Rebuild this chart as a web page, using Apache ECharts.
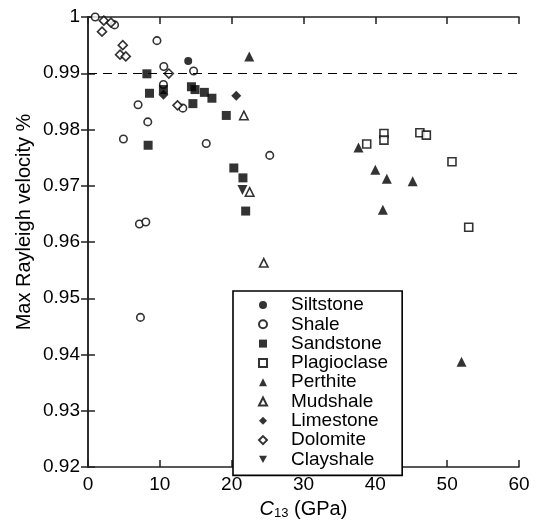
<!DOCTYPE html>
<html><head><meta charset="utf-8">
<script src="https://cdn.jsdelivr.net/npm/echarts@6/dist/echarts.min.js"></script>
<style>html,body{margin:0;padding:0;background:#fff}#c{width:538px;height:525px}</style>
</head><body><div id="c"></div>
<script>
// ---- data (C13 in GPa, max Rayleigh velocity %) ----
const xRange = [0, 60, 10];
const yRange = [0.92, 1, 0.01];
const refLine = 0.99;
const siltstone = [[13.95, 0.9922]];
const shale = [[1.0, 1.0], [3.7, 0.9986], [9.6, 0.9958], [10.55, 0.9912], [14.7, 0.9904], [10.5, 0.9880],
  [13.2, 0.9838], [6.97, 0.9844], [8.32, 0.98135], [4.93, 0.9783], [16.46, 0.9775], [25.3, 0.9754],
  [7.16, 0.9632], [8.05, 0.96356], [7.3, 0.9466]];
const sandstone = [[8.2, 0.9899], [8.56, 0.98644], [10.5, 0.9871], [14.4, 0.9876], [14.9, 0.9871], [16.2, 0.9866],
  [17.25, 0.98556], [14.6, 0.9846], [19.25, 0.9825], [8.37, 0.9772], [20.3, 0.97316], [21.57, 0.9714], [21.95, 0.9655]];
const plagioclase = [[38.8, 0.97742], [41.2, 0.9793], [41.2, 0.97812], [46.2, 0.97942], [47.1, 0.979],
  [50.67, 0.97426], [53.0, 0.96263]];
const perthite = [[22.45, 0.993], [37.66, 0.9768], [40.0, 0.97286], [41.6, 0.97123], [45.2, 0.97082],
  [41.05, 0.96574], [52.0, 0.9387]];
const mudshale = [[21.7, 0.9825], [22.5, 0.9689], [24.47, 0.9563]];
const limestone = [[20.64, 0.986], [10.5, 0.9862]];
const dolomite = [[2.2, 0.99935], [3.2, 0.999], [1.95, 0.9974], [4.84, 0.995], [4.46, 0.9933], [5.26, 0.993],
  [11.25, 0.98995], [12.46, 0.9843]];
const clayshale = [[21.5, 0.96925]];

const FONT = '"Liberation Sans", Arial, Helvetica, sans-serif';
const filled = {color: '#000'};
const open = {color: '#fff', borderColor: '#000', borderWidth: 1.6};
const downTri = 'path://M0,0 L10,0 L5,9 Z';

function mk(name, data, symbol, size, style) {
  return {name, type: 'scatter', data, symbol, symbolSize: size, itemStyle: style,
    xAxisIndex: 0, yAxisIndex: 0, z: 3};
}

const axisLine = {show: true, lineStyle: {color: '#222', width: 1.5}};
const tick = {show: true, inside: true, length: 7, lineStyle: {color: '#222', width: 1.5}};

const series = [
  mk('Siltstone', siltstone, 'circle', 8, filled),
  mk('Shale', shale, 'circle', 7.5, open),
  mk('Sandstone', sandstone, 'rect', 9, filled),
  mk('Plagioclase', plagioclase, 'rect', 8, open),
  mk('Perthite', perthite, 'triangle', 10, filled),
  mk('Mudshale', mudshale, 'triangle', 8.5, open),
  mk('Limestone', limestone, 'diamond', 10, filled),
  mk('Dolomite', dolomite, 'diamond', 9, open),
  mk('Clayshale', clayshale, downTri, 10, filled)
];
series[0].markLine = {
  silent: true, symbol: 'none', label: {show: false},
  lineStyle: {color: '#000', width: 1.2, type: [9, 6]},
  data: [{yAxis: refLine}]
};

const chart = echarts.init(document.getElementById('c'));
chart.setOption({
  animation: false,
  backgroundColor: '#fff',
  textStyle: {fontFamily: FONT},
  grid: {left: 88, right: 19, top: 17, bottom: 52, containLabel: false},
  xAxis: [{
    type: 'value', min: xRange[0], max: xRange[1], interval: xRange[2], position: 'bottom',
    axisLine, axisTick: tick, splitLine: {show: false},
    axisLabel: {color: '#000', fontSize: 19, fontFamily: FONT, margin: 8},
    name: '{i|C}{s|13} (GPa)', nameLocation: 'middle', nameGap: 32,
    nameTextStyle: {color: '#000', fontSize: 20, fontFamily: FONT,
      rich: {i: {fontStyle: 'italic', fontSize: 20, fontFamily: FONT, color: '#000'},
             s: {fontSize: 13, fontFamily: FONT, color: '#000', verticalAlign: 'bottom', padding: [8, 0, 0, 0]}}}
  }, {
    type: 'value', min: xRange[0], max: xRange[1], interval: xRange[2], position: 'top',
    axisLine, axisTick: tick, axisLabel: {show: false}, splitLine: {show: false}
  }],
  yAxis: [{
    type: 'value', min: yRange[0], max: yRange[1], interval: yRange[2], position: 'left',
    axisLine, axisTick: tick, splitLine: {show: false},
    axisLabel: {color: '#000', fontSize: 19, fontFamily: FONT, margin: 8,
      formatter: v => String(Math.round(v * 100) / 100)}
  }, {
    type: 'value', min: yRange[0], max: yRange[1], interval: yRange[2], position: 'right',
    axisLine, axisTick: tick, axisLabel: {show: false}, splitLine: {show: false}
  }],
  legend: {
    show: true, orient: 'vertical', left: 233, top: 291,
    backgroundColor: '#fff', borderColor: '#000', borderWidth: 1.6,
    padding: [4.5, 14, 6.5, 25], itemWidth: 8, itemHeight: 8, itemGap: 0.3,
    textStyle: {color: '#000', fontSize: 19, fontFamily: FONT, lineHeight: 19, padding: [0, 0, 0, 19]},
    data: series.map(s => s.name), z: 10
  },
  graphic: [{
    type: 'text', x: 24, y: 222, rotation: Math.PI / 2, z: 10,
    style: {text: 'Max Rayleigh velocity %', font: '20px ' + FONT, fill: '#000',
      align: 'center', verticalAlign: 'middle'}
  }],
  series
});
</script></body></html>
